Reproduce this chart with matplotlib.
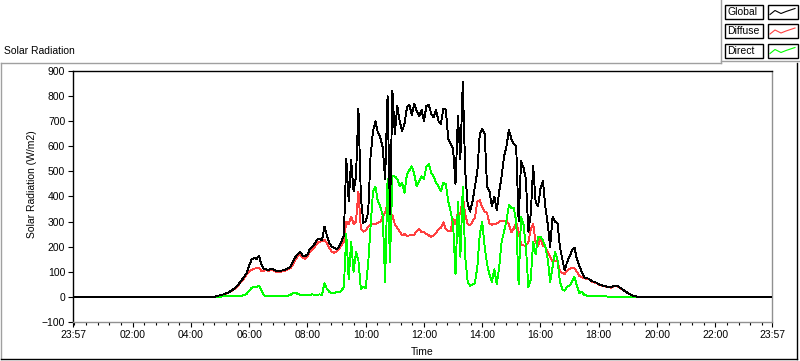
import numpy as np
import matplotlib
matplotlib.use("Agg")
import matplotlib.pyplot as plt
from matplotlib.patches import Rectangle

plt.rcParams['font.family'] = ['Liberation Sans', 'DejaVu Sans']
plt.rcParams['font.size'] = 7

# 5-minute samples starting 04:45, values in W/m2
start_hour = 4.75
step_hour = 5 / 60.

global_wm2 = [
    0, 1, 4,                                                       # 04:45
    7, 9, 12, 16, 21, 27, 34, 44, 55, 68, 82, 96,                  # 05
    125, 150, 155, 150, 165, 130, 112, 110, 106, 112, 110, 104,    # 06
    104, 104, 106, 110, 114, 120, 140, 158, 170, 180, 165, 162,    # 07
    170, 190, 200, 212, 228, 232, 226, 280, 245, 215, 200, 195,    # 08
    190, 200, 220, 245, 550, 380, 545, 420, 480, 750, 400, 295,    # 09
    300, 335, 560, 660, 700, 655, 635, 595, 470, 800, 330, 820,    # 10
    650, 760, 700, 660, 690, 755, 765, 725, 770, 740, 720, 745,    # 11
    700, 760, 765, 730, 715, 745, 700, 690, 750, 745, 630, 610,    # 12
    590, 450, 720, 550, 855, 500, 370, 340, 380, 440, 500, 650,    # 13
    670, 650, 440, 420, 360, 400, 345, 420, 480, 560, 600, 665,    # 14
    630, 610, 600, 300, 540, 515, 470, 260, 330, 520, 380, 360,    # 15
    430, 462, 360, 290, 200, 320, 300, 295, 200, 150, 105, 140,    # 16
    160, 188, 197, 150, 125, 100, 78, 75, 72, 64, 60, 57,          # 17
    50, 47, 44, 42, 40, 38, 43, 45, 42, 35, 28, 22,                # 18
    15, 10, 5, 3, 0, 0, 0,                                         # 19
]

diffuse_wm2 = [
    0, 1, 4,
    7, 9, 12, 15, 20, 26, 32, 41, 52, 63, 76, 90,
    100, 108, 112, 115, 117, 104, 104, 106, 104, 108, 106, 100,
    100, 100, 102, 106, 110, 115, 128, 148, 162, 170, 155, 152,
    162, 178, 190, 200, 215, 220, 222, 228, 215, 195, 180, 176,
    180, 190, 205, 220, 300, 290, 320, 290, 300, 420, 270, 260,
    265, 280, 290, 292, 290, 295, 300, 320, 335, 375, 330, 325,
    290, 275, 260, 245, 250, 242, 245, 245, 248, 262, 270, 258,
    258, 250, 245, 240, 245, 256, 268, 276, 297, 270, 262, 262,
    312, 290, 337, 330, 400, 330, 290, 285, 300, 316, 380, 385,
    357, 340, 335, 290, 288, 290, 292, 300, 304, 304, 304, 290,
    257, 272, 297, 260, 210, 205, 204, 217, 270, 290, 217, 204,
    231, 205, 200, 177, 160, 140, 145, 144, 105, 95, 92, 104,
    112, 116, 115, 100, 84, 78, 74, 72, 70, 62, 58, 56,
    49, 46, 43, 41, 39, 37, 42, 44, 41, 34, 27, 21,
    14, 10, 5, 3, 0, 0, 0,
]

direct_wm2 = [
    0, 0, 1,
    1, 2, 3, 3, 3, 4, 5, 5, 5, 5, 7, 12,
    25, 36, 40, 38, 45, 28, 6, 4, 3, 3, 4, 4,
    4, 4, 4, 5, 5, 8, 15, 17, 12, 8, 8, 8,
    8, 8, 10, 8, 8, 10, 8, 55, 32, 20, 16, 16,
    20, 18, 25, 40, 250, 70, 220, 100, 180, 145, 30, 40,
    35, 130, 280, 420, 440, 380, 360, 325, 60, 470, 140, 480,
    480, 470, 440, 455, 415, 490, 505, 520, 490, 440, 460, 480,
    470, 520, 530, 495, 480, 455, 440, 420, 455, 450, 380, 340,
    290, 90, 380, 160, 440, 160, 60, 45, 50, 55, 120, 250,
    300, 200, 130, 90, 60, 110, 50, 120, 220, 260, 305, 365,
    355, 355, 300, 50, 320, 290, 200, 40, 70, 220, 170, 240,
    240, 225, 200, 150, 60, 120, 180, 150, 60, 30, 25, 40,
    45, 60, 80, 45, 15, 20, 8, 5, 5, 4, 4, 2,
    2, 2, 2, 2, 1, 1, 1, 1, 1, 1, 1, 1,
    1, 0, 0, 0, 0, 0, 0,
]

x_ticks = [-0.05, 2, 4, 6, 8, 10, 12, 14, 16, 18, 20, 22, 23.95]
x_labels = ['23:57', '02:00', '04:00', '06:00', '08:00', '10:00', '12:00',
            '14:00', '16:00', '18:00', '20:00', '22:00', '23:57']
y_ticks = [-100, 0, 100, 200, 300, 400, 500, 600, 700, 800, 900]

# name, values, colour, draw order (Global on top)
series = [('Global', global_wm2, 'black', 4),
          ('Diffuse', diffuse_wm2, '#ff4040', 2),
          ('Direct', direct_wm2, '#00ff00', 3)]

W, H = 800, 361
fig = plt.figure(figsize=(W / 100, H / 100), dpi=100)

# plot area in pixels
left, right, top, bottom = 73, 772, 71, 322
ax = fig.add_axes([left / W, 1 - bottom / H, (right - left) / W, (bottom - top) / H])

t = start_hour + np.arange(len(global_wm2)) * step_hour
tt = np.concatenate([[x_ticks[0]], t, [x_ticks[-1]]])
for name, vals, col, z in series:
    v = np.concatenate([[0], vals, [0]])
    ax.plot(tt, v, color=col, lw=0.65, zorder=z, antialiased=False)

ax.set_xlim(x_ticks[0], x_ticks[-1])
ax.set_ylim(-100, 900)
ax.set_xticks(x_ticks)
ax.set_xticklabels(x_labels)
ax.set_xticks([m for m in np.arange(0, 24, 0.4) if m < x_ticks[-1]], minor=True)
ax.set_yticks(y_ticks)
ax.tick_params(axis='both', which='major', direction='out', length=3.6, width=0.8,
               pad=2, labelsize=7.5)
ax.tick_params(axis='x', which='minor', direction='out', length=2, width=0.8)
for s in ['left', 'top']:
    ax.spines[s].set_color('black')
    ax.spines[s].set_linewidth(1)
for s in ['right', 'bottom']:
    ax.spines[s].set_color('#909090')
    ax.spines[s].set_linewidth(1)

fig.text(32 / W, 1 - 184 / H, 'Solar Radiation (W/m2)', rotation=90,
         ha='center', va='center', fontsize=7.5)
fig.text(422 / W, 1 - 352 / H, 'Time', ha='center', va='center', fontsize=7.5)
fig.text(4 / W, 1 - 51 / H, 'Solar Radiation', ha='left', va='center', fontsize=7.5)

# overlay for frames and legend, pixel coordinates
ov = fig.add_axes([0, 0, 1, 1], zorder=-1)
ov.set_xlim(0, W)
ov.set_ylim(H, 0)
ov.axis('off')
ov.plot([0.5, 720.5], [62.5, 62.5], color='#a0a0a0', lw=1)
ov.plot([0.5, 0.5], [62.5, 359], color='#a0a0a0', lw=1)
ov.plot([0.5, 797], [359, 359], color='black', lw=1)
ov.plot([797, 797], [62.5, 359], color='black', lw=1)
ov.plot([720.5, 720.5], [0, 62.5], color='#a0a0a0', lw=1)
ov.plot([720.5, 800], [61, 61], color='#a0a0a0', lw=1)

for i, (name, vals, col, z) in enumerate(series):
    y0 = 4.5 + i * 19.5
    ov.add_patch(Rectangle((724.5, y0), 38.5, 14, fill=False, ec='black', lw=1))
    ov.add_patch(Rectangle((767.5, y0), 30, 14, fill=False, ec='black', lw=1))
    ov.text(727, y0 + 7.5, name, ha='left', va='center', fontsize=7.5)
    ov.plot([770, 775, 781, 786, 795], [y0 + 10, y0 + 6, y0 + 9, y0 + 7, y0 + 4],
            color=col, lw=0.8)

fig.savefig('out.png', dpi=100, facecolor='white')
